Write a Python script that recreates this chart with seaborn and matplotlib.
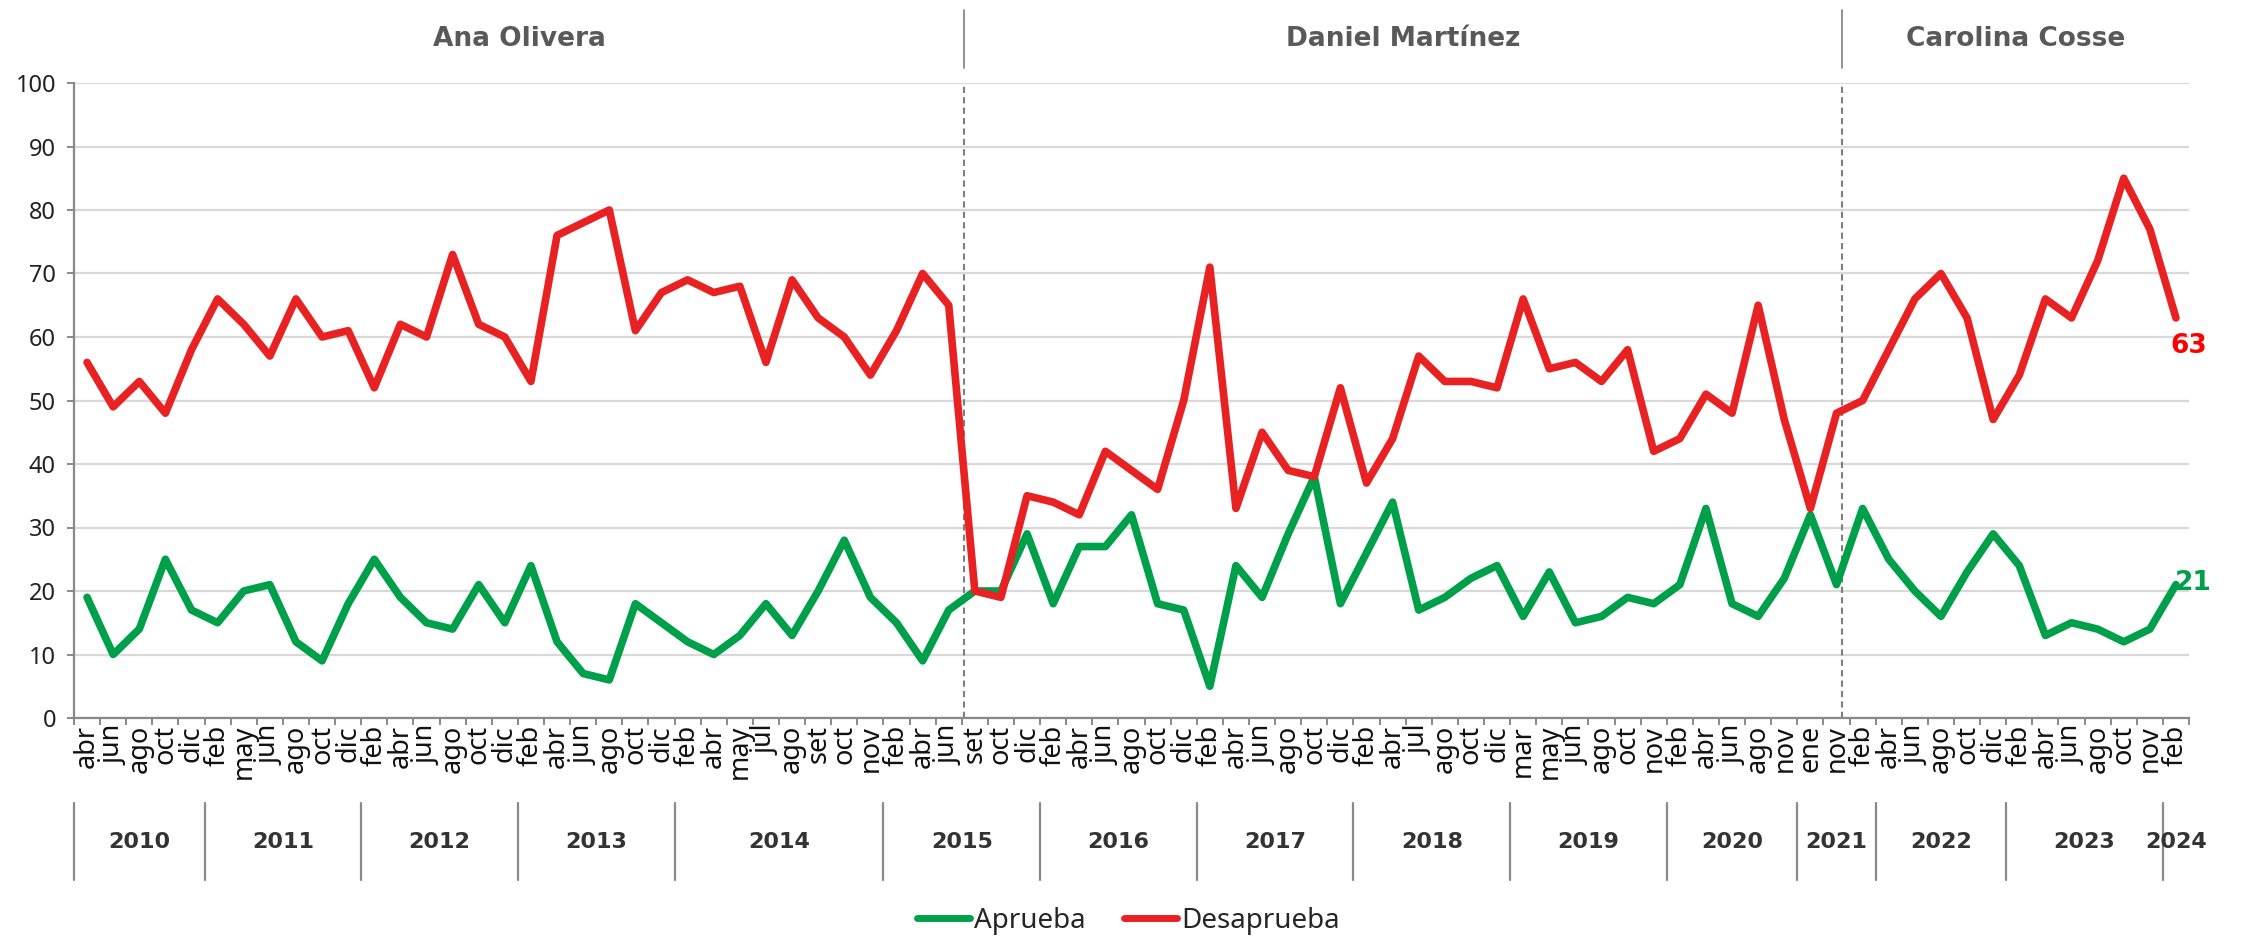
import matplotlib
matplotlib.use("Agg")
import matplotlib.pyplot as plt
import seaborn as sns
import pandas as pd
from matplotlib.lines import Line2D

# month of each poll (81 polls, Montevideo)
meses = ["abr", "jun", "ago", "oct", "dic",
         "feb", "may", "jun", "ago", "oct", "dic",
         "feb", "abr", "jun", "ago", "oct", "dic",
         "feb", "abr", "jun", "ago", "oct", "dic",
         "feb", "abr", "may", "jul", "ago", "set", "oct", "nov",
         "feb", "abr", "jun", "set", "oct", "dic",
         "feb", "abr", "jun", "ago", "oct", "dic",
         "feb", "abr", "jun", "ago", "oct", "dic",
         "feb", "abr", "jul", "ago", "oct", "dic",
         "mar", "may", "jun", "ago", "oct", "nov",
         "feb", "abr", "jun", "ago", "nov",
         "ene", "nov", "feb",
         "abr", "jun", "ago", "oct", "dic",
         "feb", "abr", "jun", "ago", "oct", "nov",
         "feb"]

anios = ["2010", "2011", "2012", "2013", "2014", "2015", "2016", "2017",
         "2018", "2019", "2020", "2021", "2022", "2023", "2024"]
meses_por_anio = [5, 6, 6, 6, 8, 6, 6, 6, 6, 6, 5, 3, 5, 6, 1]

aprueba = [19, 10, 14, 25, 17,
           15, 20, 21, 12, 9, 18,
           25, 19, 15, 14, 21, 15,
           24, 12, 7, 6, 18, 15,
           12, 10, 13, 18, 13, 20, 28, 19,
           15, 9, 17, 20, 20, 29,
           18, 27, 27, 32, 18, 17,
           5, 24, 19, 29, 38, 18,
           26, 34, 17, 19, 22, 24,
           16, 23, 15, 16, 19, 18,
           21, 33, 18, 16, 22,
           32, 21, 33,
           25, 20, 16, 23, 29,
           24, 13, 15, 14, 12, 14,
           21]

desaprueba = [56, 49, 53, 48, 58,
              66, 62, 57, 66, 60, 61,
              52, 62, 60, 73, 62, 60,
              53, 76, 78, 80, 61, 67,
              69, 67, 68, 56, 69, 63, 60, 54,
              61, 70, 65, 20, 19, 35,
              34, 32, 42, 39, 36, 50,
              71, 33, 45, 39, 38, 52,
              37, 44, 57, 53, 53, 52,
              66, 55, 56, 53, 58, 42,
              44, 51, 48, 65, 47,
              33, 48, 50,
              58, 66, 70, 63, 47,
              54, 66, 63, 72, 85, 77,
              63]

intendentes = ["Ana Olivera", "Daniel Martínez", "Carolina Cosse"]
cambio_intendente = [33.6, 67.2]  # position on the poll axis

verde = "#00A04A"
rojo = "#E82222"
gris = "#898989"
negrita = ["DejaVu Sans"]

n = len(meses)
df = pd.DataFrame({
    "encuesta": list(range(n)) * 2,
    "valor": aprueba + desaprueba,
    "serie": ["Aprueba"] * n + ["Desaprueba"] * n,
})

sns.set_theme(style="white")
plt.rcParams["font.family"] = ["Noto Sans", "DejaVu Sans"]

fig = plt.figure(figsize=(22.57, 9.4), dpi=100)
ax = fig.add_axes([74 / 2257, 1 - 718 / 940, (2189 - 74) / 2257, 635 / 940])

sns.lineplot(data=df, x="encuesta", y="valor", hue="serie",
             palette={"Aprueba": verde, "Desaprueba": rojo},
             lw=5.5, legend=False, ax=ax, zorder=3,
             solid_joinstyle="round", solid_capstyle="round")

ax.set_xlim(-0.5, n - 0.5)
ax.set_ylim(0, 100)
ax.set_xlabel("")
ax.set_ylabel("")

# grid and axes
ax.set_yticks(range(0, 101, 10))
ax.yaxis.grid(True, color="#d9d9d9", lw=1.6)
ax.set_axisbelow(True)
for s in ["top", "right"]:
    ax.spines[s].set_visible(False)
for s in ["left", "bottom"]:
    ax.spines[s].set_color(gris)
    ax.spines[s].set_linewidth(1.6)

ax.tick_params(axis="y", which="major", length=5, width=1.4, color=gris,
               labelsize=17, labelcolor="#222222", pad=8, left=True)

ax.set_xticks(range(n))
ax.set_xticklabels(meses, rotation=90, fontsize=19.5, color="#111111")
ax.set_xticks([i - 0.5 for i in range(n + 1)], minor=True)
ax.tick_params(axis="x", which="major", length=0, pad=5)
ax.tick_params(axis="x", which="minor", length=5, width=1.4, color=gris,
               bottom=True, direction="out")

# dashed lines at change of mayor
for c in cambio_intendente:
    ax.axvline(c, color="#7f7f7f", lw=1.5, ls=(0, (3, 2)), zorder=2)

trans = ax.get_xaxis_transform()

# mayor headers
limites = [-0.5] + cambio_intendente + [n - 0.5]
for k, nombre in enumerate(intendentes):
    ax.text((limites[k] + limites[k + 1]) / 2, 1.069, nombre, transform=trans,
            ha="center", va="center", fontsize=19, fontweight="bold",
            color="#595959", family=negrita)
for c in cambio_intendente:
    ax.plot([c, c], [1.024, 1.115], transform=trans, color=gris, lw=1.3,
            clip_on=False)

# year row
inicio = -0.5
for anio, cuenta in zip(anios, meses_por_anio):
    ax.plot([inicio, inicio], [-0.134, -0.255], transform=trans, color=gris,
            lw=1.6, clip_on=False)
    ax.text(inicio + cuenta / 2, -0.195, anio, transform=trans, ha="center",
            va="center", fontsize=16, fontweight="bold", color="#333333",
            family=negrita)
    inicio += cuenta

# end labels
ax.annotate(str(desaprueba[-1]), (n - 1, desaprueba[-1]), xytext=(9, -20),
            textcoords="offset points", ha="center", va="center",
            fontsize=19, fontweight="bold", color="#FF0000", family=negrita)
ax.annotate(str(aprueba[-1]), (n - 1, aprueba[-1]), xytext=(-1, 1),
            textcoords="offset points", ha="left", va="center",
            fontsize=19, fontweight="bold", color=verde, family=negrita)

handles = [Line2D([], [], color=verde, lw=5, solid_capstyle="round"),
           Line2D([], [], color=rojo, lw=5, solid_capstyle="round")]
fig.legend(handles, ["Aprueba", "Desaprueba"], loc="center",
           bbox_to_anchor=(0.5, 1 - 921 / 940), ncol=2, frameon=False,
           fontsize=20, handlelength=1.9, handletextpad=0.15,
           columnspacing=1.4)

fig.savefig("out.png", dpi=100)
